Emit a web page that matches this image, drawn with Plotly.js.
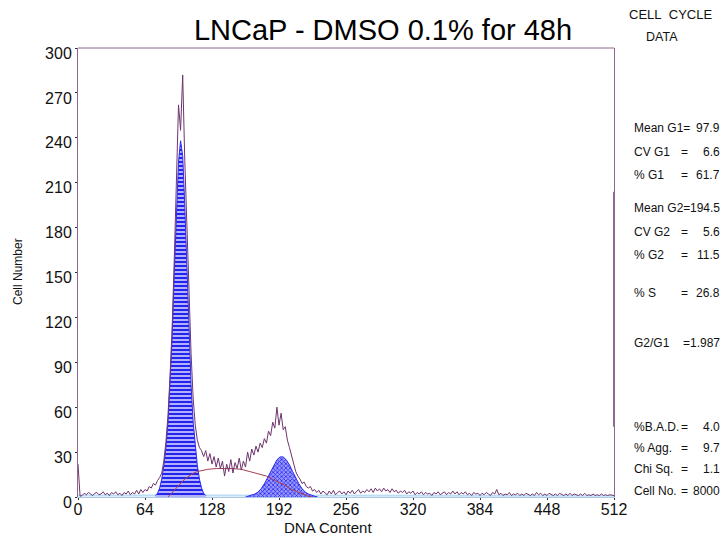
<!DOCTYPE html>
<html><head><meta charset="utf-8">
<script src="https://cdn.plot.ly/plotly-3.0.1.min.js"></script>
<style>html,body{margin:0;padding:0;background:#fff;} #chart{width:723px;height:541px;}</style>
</head><body><div id="chart"></div>
<script>
// Raw DNA histogram: channel 0..512, every 2 channels
const rawStart = 0, rawStep = 2;
const rawCounts = [
  22,0.5,1,2.5,1.5,3,2,1,2.5,3,1.5,2,3.5,1.5,2.5,1,
  3,2,3.5,1.5,2.5,1,3,2,4,1.5,3,2,4.5,2,5,3,
  5,4,7,6,9,8,11,13,16,24,37,55,82,115,160,205,
  262,245,282,225,178,132,96,66,48,38,33,31,27,31,24,29,
  22,27,20,26,19,24,14,22,17,25,16,23,19,26,18,24,
  20,30,24,32,28,34,30,36,33,39,36,44,41,50,46,60,
  48,56,45,47,38,33,27,22,17,14,12,9,10,7,6,7,
  4,5,3,4.5,2,4,2.5,1.5,4,2,4.5,1.5,3,4,2,3.5,
  1.5,4,2.5,4.5,2,3.5,5,2.5,4,3,5,3.5,5.5,3,6,4,
  5.5,3.5,6,4,5,3,5.5,3.5,4.5,2.5,4,3,4.5,2,3.5,2.5,
  4,1.5,3,2,3.5,1.5,3,2,2.5,1,3,2,3.5,1.5,2.5,3.5,
  1.5,3,2,4,2,3.5,1.5,3,2,3.5,1.5,2.5,1,3,2,2.5,
  1,2.5,1.5,3,2,1,3,2,5,1.5,2.5,1,2,1.5,3,1,
  2,1.5,2.5,1,2,1,2.5,1.5,1,2,1,3,1.5,2.5,1,2,
  1,2.5,1.5,1,2,1,2.5,1.5,1,2,1,2.5,1,2,1.5,1,
  2,1,2.5,1,1.5,1,2,1,1.5,1,2,1,1.5,1,1.5,1,
  1
];
// G1 fitted peak
const g1X = [74,76,78,80,82,84,86,88,90,92,94,96,98,100,102,104,106,108,110,112,114,116,118,120,122];
const g1Y = [1,2.5,6,12,21,33,50,75,108,150,192,224,238,228,195,152,110,75,50,33,21,12,6,2.5,1];
// G2 fitted peak
const g2X = [160,163,166,169,172,175,178,181,184,187,190,193,196,199,202,205,208,211,214,217,220,223,226,229];
const g2Y = [0,0.5,1,2,3.3,5.6,8.8,12.7,17,21.4,24.8,26.8,26.8,24.8,21.4,17,12.7,8.8,5.6,3.3,2,1,0.5,0];
// S-phase model
const sX = [86,90,94,98,102,106,110,114,118,124,132,140,148,156,164,172,180,188,196,204,212,220,224];
const sY = [0,3,6.5,9.5,12,14,15.8,17,17.8,18.5,19,19.2,19,18.5,17,15.5,14,11,8.5,5,2.5,0.5,0];
// Debris / aggregate baseline
const debrisX = [0,64,128,192,256,320,384,448,512];
const debrisY = [1,1,0.8,0.8,0.8,0.8,0.8,0.8,0.8];
// Overflow (last channel)
const overflowX = [512,512];
const overflowY = [47,204];

const xTicks = [0,64,128,192,256,320,384,448,512];
const yTicks = [0,30,60,90,120,150,180,210,240,270,300];

const titleText = 'LNCaP - DMSO 0.1% for 48h';
const statLabels = ['Mean G1=','CV G1','% G1','Mean G2=','CV G2','% G2','% S','G2/G1','%B.A.D.','% Agg.','Chi Sq.','Cell No.'];
const statEquals = ['','=','=','','=','=','=','','=','=','=','='];
const statValues = ['97.9','6.6','61.7','194.5','5.6','11.5','26.8','=1.987','4.0','9.7','1.1','8000'];
const statRowsPx = [128,152,175,208,232,255,293,343,427,448,469,491];

// layout geometry (pixels)
const W = 723, H = 541, L = 78, R = 614, T = 48, B = 497;
const px2x = p => (p - L) / (R - L);
const py2y = p => (B - p) / (B - T);

const font = 'Liberation Sans, Arial, sans-serif';

const traces = [
  {x: debrisX, y: debrisY, type: 'scatter', mode: 'lines',
   line: {color: '#bcdcf4', width: 2}, hoverinfo: 'skip'},
  {x: g1X, y: g1Y, type: 'scatter', mode: 'lines', fill: 'tozeroy',
   line: {color: '#2b2bf0', width: 1},
   fillpattern: {shape: '-', fgcolor: '#2424ee', bgcolor: '#d6d6ff', size: 4, solidity: 0.6},
   hoverinfo: 'skip'},
  {x: g2X, y: g2Y, type: 'scatter', mode: 'lines', fill: 'tozeroy',
   line: {color: '#2b2bf0', width: 1},
   fillpattern: {shape: 'x', fgcolor: '#2424ee', bgcolor: '#9a9aff', size: 3, solidity: 0.45},
   hoverinfo: 'skip'},
  {x: sX, y: sY, type: 'scatter', mode: 'lines',
   line: {color: '#a8404f', width: 1}, hoverinfo: 'skip'},
  {y: rawCounts, x0: rawStart, dx: rawStep, type: 'scatter', mode: 'lines',
   line: {color: '#6e356c', width: 1}, hoverinfo: 'skip'},
  {x: overflowX, y: overflowY, type: 'scatter', mode: 'lines',
   line: {color: '#6a3a6c', width: 1.5}, hoverinfo: 'skip'}
];

const annotations = [];
annotations.push({xref: 'paper', yref: 'paper', x: px2x(328), y: py2y(527), text: 'DNA Content',
  showarrow: false, xanchor: 'center', yanchor: 'middle', font: {family: font, size: 15, color: '#111'}});
annotations.push({xref: 'paper', yref: 'paper', x: px2x(18), y: py2y(272), text: 'Cell Number', textangle: -90,
  showarrow: false, xanchor: 'center', yanchor: 'middle', font: {family: font, size: 12, color: '#111'}});
annotations.push({xref: 'paper', yref: 'paper', x: px2x(671), y: py2y(14), text: 'CELL\u00a0\u00a0CYCLE',
  showarrow: false, xanchor: 'center', yanchor: 'middle', font: {family: font, size: 13, color: '#111'}});
annotations.push({xref: 'paper', yref: 'paper', x: px2x(662), y: py2y(37), text: 'DATA',
  showarrow: false, xanchor: 'center', yanchor: 'middle', font: {family: font, size: 12.5, color: '#111'}});
statLabels.forEach((lab, i) => {
  const yy = py2y(statRowsPx[i]);
  annotations.push({xref: 'paper', yref: 'paper', x: px2x(632), y: yy, text: lab,
    showarrow: false, xanchor: 'left', yanchor: 'middle', font: {family: font, size: 12, color: '#111'}});
  if (statEquals[i]) {
    annotations.push({xref: 'paper', yref: 'paper', x: px2x(684), y: yy, text: statEquals[i],
      showarrow: false, xanchor: 'center', yanchor: 'middle', font: {family: font, size: 12, color: '#111'}});
  }
  annotations.push({xref: 'paper', yref: 'paper', x: px2x(722), y: yy, text: statValues[i],
    showarrow: false, xanchor: 'right', yanchor: 'middle', font: {family: font, size: 12, color: '#111'}});
});

const layout = {
  width: W, height: H,
  margin: {l: L, r: W - R, t: T, b: H - B, pad: 0},
  paper_bgcolor: '#fff', plot_bgcolor: '#fff',
  showlegend: false,
  title: {text: titleText, xref: 'container', yref: 'container', x: 383 / W, y: 1 - 30 / H,
    xanchor: 'center', yanchor: 'middle', font: {family: font, size: 29, color: '#000'}},
  xaxis: {range: [0, 512], tickvals: xTicks, ticktext: xTicks.map(String), showgrid: false, zeroline: false,
    showline: true, linecolor: '#a9c9e6', linewidth: 1, ticks: 'outside', ticklen: 2, tickcolor: '#333',
    ticklabelstandoff: -4,
    tickfont: {family: font, size: 16, color: '#111'}, fixedrange: true},
  yaxis: {range: [0, 300], tickvals: yTicks, ticktext: yTicks.map(String), showgrid: false, zeroline: false,
    showline: true, mirror: true, linecolor: '#8f6592', linewidth: 1, ticks: 'outside', ticklen: 2, tickcolor: '#333',
    ticklabelshift: 5,
    tickfont: {family: font, size: 16, color: '#111'}, fixedrange: true},
  shapes: [{type: 'line', xref: 'paper', yref: 'paper', x0: 0, x1: 1, y0: 1, y1: 1,
    line: {color: '#8f6592', width: 1}}],
  annotations: annotations
};

Plotly.newPlot('chart', traces, layout, {staticPlot: true, displayModeBar: false});
</script>
</body></html>
